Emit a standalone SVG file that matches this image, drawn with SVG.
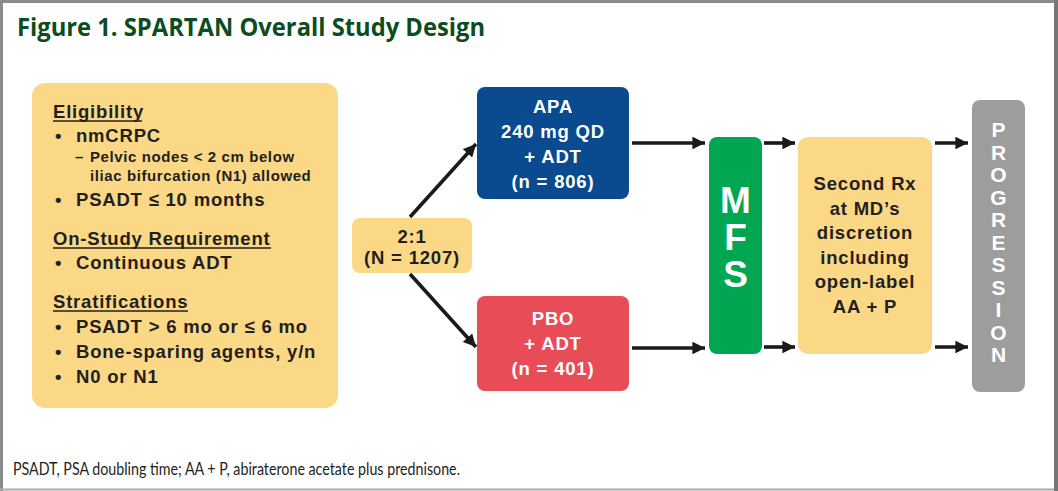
<svg xmlns="http://www.w3.org/2000/svg" width="1058" height="491" viewBox="0 0 1058 491">
<defs>
<marker id="ah" viewBox="0 0 10 10" refX="10" refY="5" markerWidth="3.8" markerHeight="3.5" orient="auto" markerUnits="strokeWidth">
<path d="M0,0 L10,5 L0,10 z" fill="#1a1a1a"/>
</marker>
<style>
.t{font-family:"Liberation Sans",Arial,sans-serif;font-weight:bold;fill:#231f20}
.b{font-size:18.5px;letter-spacing:0.8px}
.s{font-size:15px;letter-spacing:0.6px}
.w{font-family:"Liberation Sans",Arial,sans-serif;font-weight:bold;fill:#fff;text-anchor:middle}
.c{text-anchor:middle}
.ul{stroke:#231f20;stroke-width:1.6}
.con{stroke:#1a1a1a;stroke-width:3.6;fill:none;marker-end:url(#ah)}
</style>
</defs>
<rect x="0" y="0" width="1058" height="491" fill="#fff"/>
<path d="M1.5,491 V1.5 H1055" fill="none" stroke="#8a8a8a" stroke-width="3"/>
<line x1="1056" y1="0" x2="1056" y2="491" stroke="#777" stroke-width="4"/>
<line x1="0" y1="489.5" x2="1054" y2="489.5" stroke="#aaa" stroke-width="2"/>
<text x="17" y="36" font-family="'Open Sans','Noto Sans',sans-serif" font-weight="bold" font-size="24.5" fill="#0b4d21" textLength="468" lengthAdjust="spacingAndGlyphs">Figure 1. SPARTAN Overall Study Design</text>

<g id="criteria">
<rect x="32" y="83" width="306" height="325" rx="13" fill="#fad886"/>
<text class="t b" x="53" y="118">Eligibility</text>
<line class="ul" x1="53" y1="121" x2="142" y2="121"/>
<text class="t b" x="55" y="142">•<tspan x="76">nmCRPC</tspan></text>
<text class="t s" x="75" y="162">–<tspan x="90">Pelvic nodes &lt; 2 cm below</tspan></text>
<text class="t s" x="90" y="181">iliac bifurcation (N1) allowed</text>
<text class="t b" x="55" y="206">•<tspan x="76">PSADT ≤ 10 months</tspan></text>
<text class="t b" x="53" y="245">On-Study Requirement</text>
<line class="ul" x1="53" y1="248" x2="271" y2="248"/>
<text class="t b" x="55" y="269">•<tspan x="76">Continuous ADT</tspan></text>
<text class="t b" x="53" y="308">Stratifications</text>
<line class="ul" x1="53" y1="311" x2="188" y2="311"/>
<text class="t b" x="55" y="333">•<tspan x="76">PSADT &gt; 6 mo or ≤ 6 mo</tspan></text>
<text class="t b" x="55" y="358">•<tspan x="76">Bone-sparing agents, y/n</tspan></text>
<text class="t b" x="55" y="383">•<tspan x="76">N0 or N1</tspan></text>
</g>

<g id="randomization">
<rect x="352" y="218" width="120" height="55" rx="8" fill="#fad886"/>
<text class="t b c" x="412" y="243">2:1</text>
<text class="t b c" x="412" y="264">(N = 1207)</text>
</g>

<g id="apa">
<rect x="477" y="87" width="152" height="112" rx="8" fill="#0a4a8f"/>
<text class="w b" x="553" y="113">APA</text>
<text class="w b" x="553" y="138">240 mg QD</text>
<text class="w b" x="553" y="163">+ ADT</text>
<text class="w b" x="553" y="188">(n = 806)</text>
</g>

<g id="pbo">
<rect x="477" y="296" width="152" height="95" rx="8" fill="#e84c57"/>
<text class="w b" x="553" y="325">PBO</text>
<text class="w b" x="553" y="350">+ ADT</text>
<text class="w b" x="553" y="375">(n = 401)</text>
</g>

<g id="mfs">
<rect x="709" y="137" width="53" height="217" rx="8" fill="#00a651"/>
<text class="w" x="735.5" y="213" font-size="37">M</text>
<text class="w" x="735.5" y="250" font-size="37">F</text>
<text class="w" x="735.5" y="287" font-size="37">S</text>
</g>

<g id="second-rx">
<rect x="798" y="137" width="134" height="217" rx="10" fill="#fad886"/>
<text class="t b c" x="865" y="190">Second Rx</text>
<text class="t b c" x="865" y="215">at MD’s</text>
<text class="t b c" x="865" y="239">discretion</text>
<text class="t b c" x="865" y="264">including</text>
<text class="t b c" x="865" y="288">open-label</text>
<text class="t b c" x="865" y="313">AA + P</text>
</g>

<g id="progression">
<rect x="972" y="100" width="53" height="292" rx="8" fill="#9d9d9d"/>
<g class="w" font-size="21">
<text x="998.5" y="137">P</text>
<text x="998.5" y="159.5">R</text>
<text x="998.5" y="182">O</text>
<text x="998.5" y="204.5">G</text>
<text x="998.5" y="227">R</text>
<text x="998.5" y="249.5">E</text>
<text x="998.5" y="272">S</text>
<text x="998.5" y="294.5">S</text>
<text x="998.5" y="317">I</text>
<text x="998.5" y="339.5">O</text>
<text x="998.5" y="362">N</text>
</g>
</g>

<g id="connectors">
<line class="con" x1="410" y1="217" x2="476" y2="144"/>
<line class="con" x1="410" y1="274" x2="476" y2="347"/>
<line class="con" x1="632" y1="143" x2="705" y2="143"/>
<line class="con" x1="632" y1="348" x2="705" y2="348"/>
<line class="con" x1="764" y1="143" x2="795" y2="143"/>
<line class="con" x1="764" y1="347" x2="795" y2="347"/>
<line class="con" x1="935" y1="143" x2="968" y2="143"/>
<line class="con" x1="935" y1="347" x2="968" y2="347"/>
</g>

<text x="13" y="475" font-family="Lato,'Open Sans',sans-serif" font-size="17.5" fill="#231f20" textLength="447" lengthAdjust="spacingAndGlyphs">PSADT, PSA doubling time; AA + P, abiraterone acetate plus prednisone.</text>
</svg>
